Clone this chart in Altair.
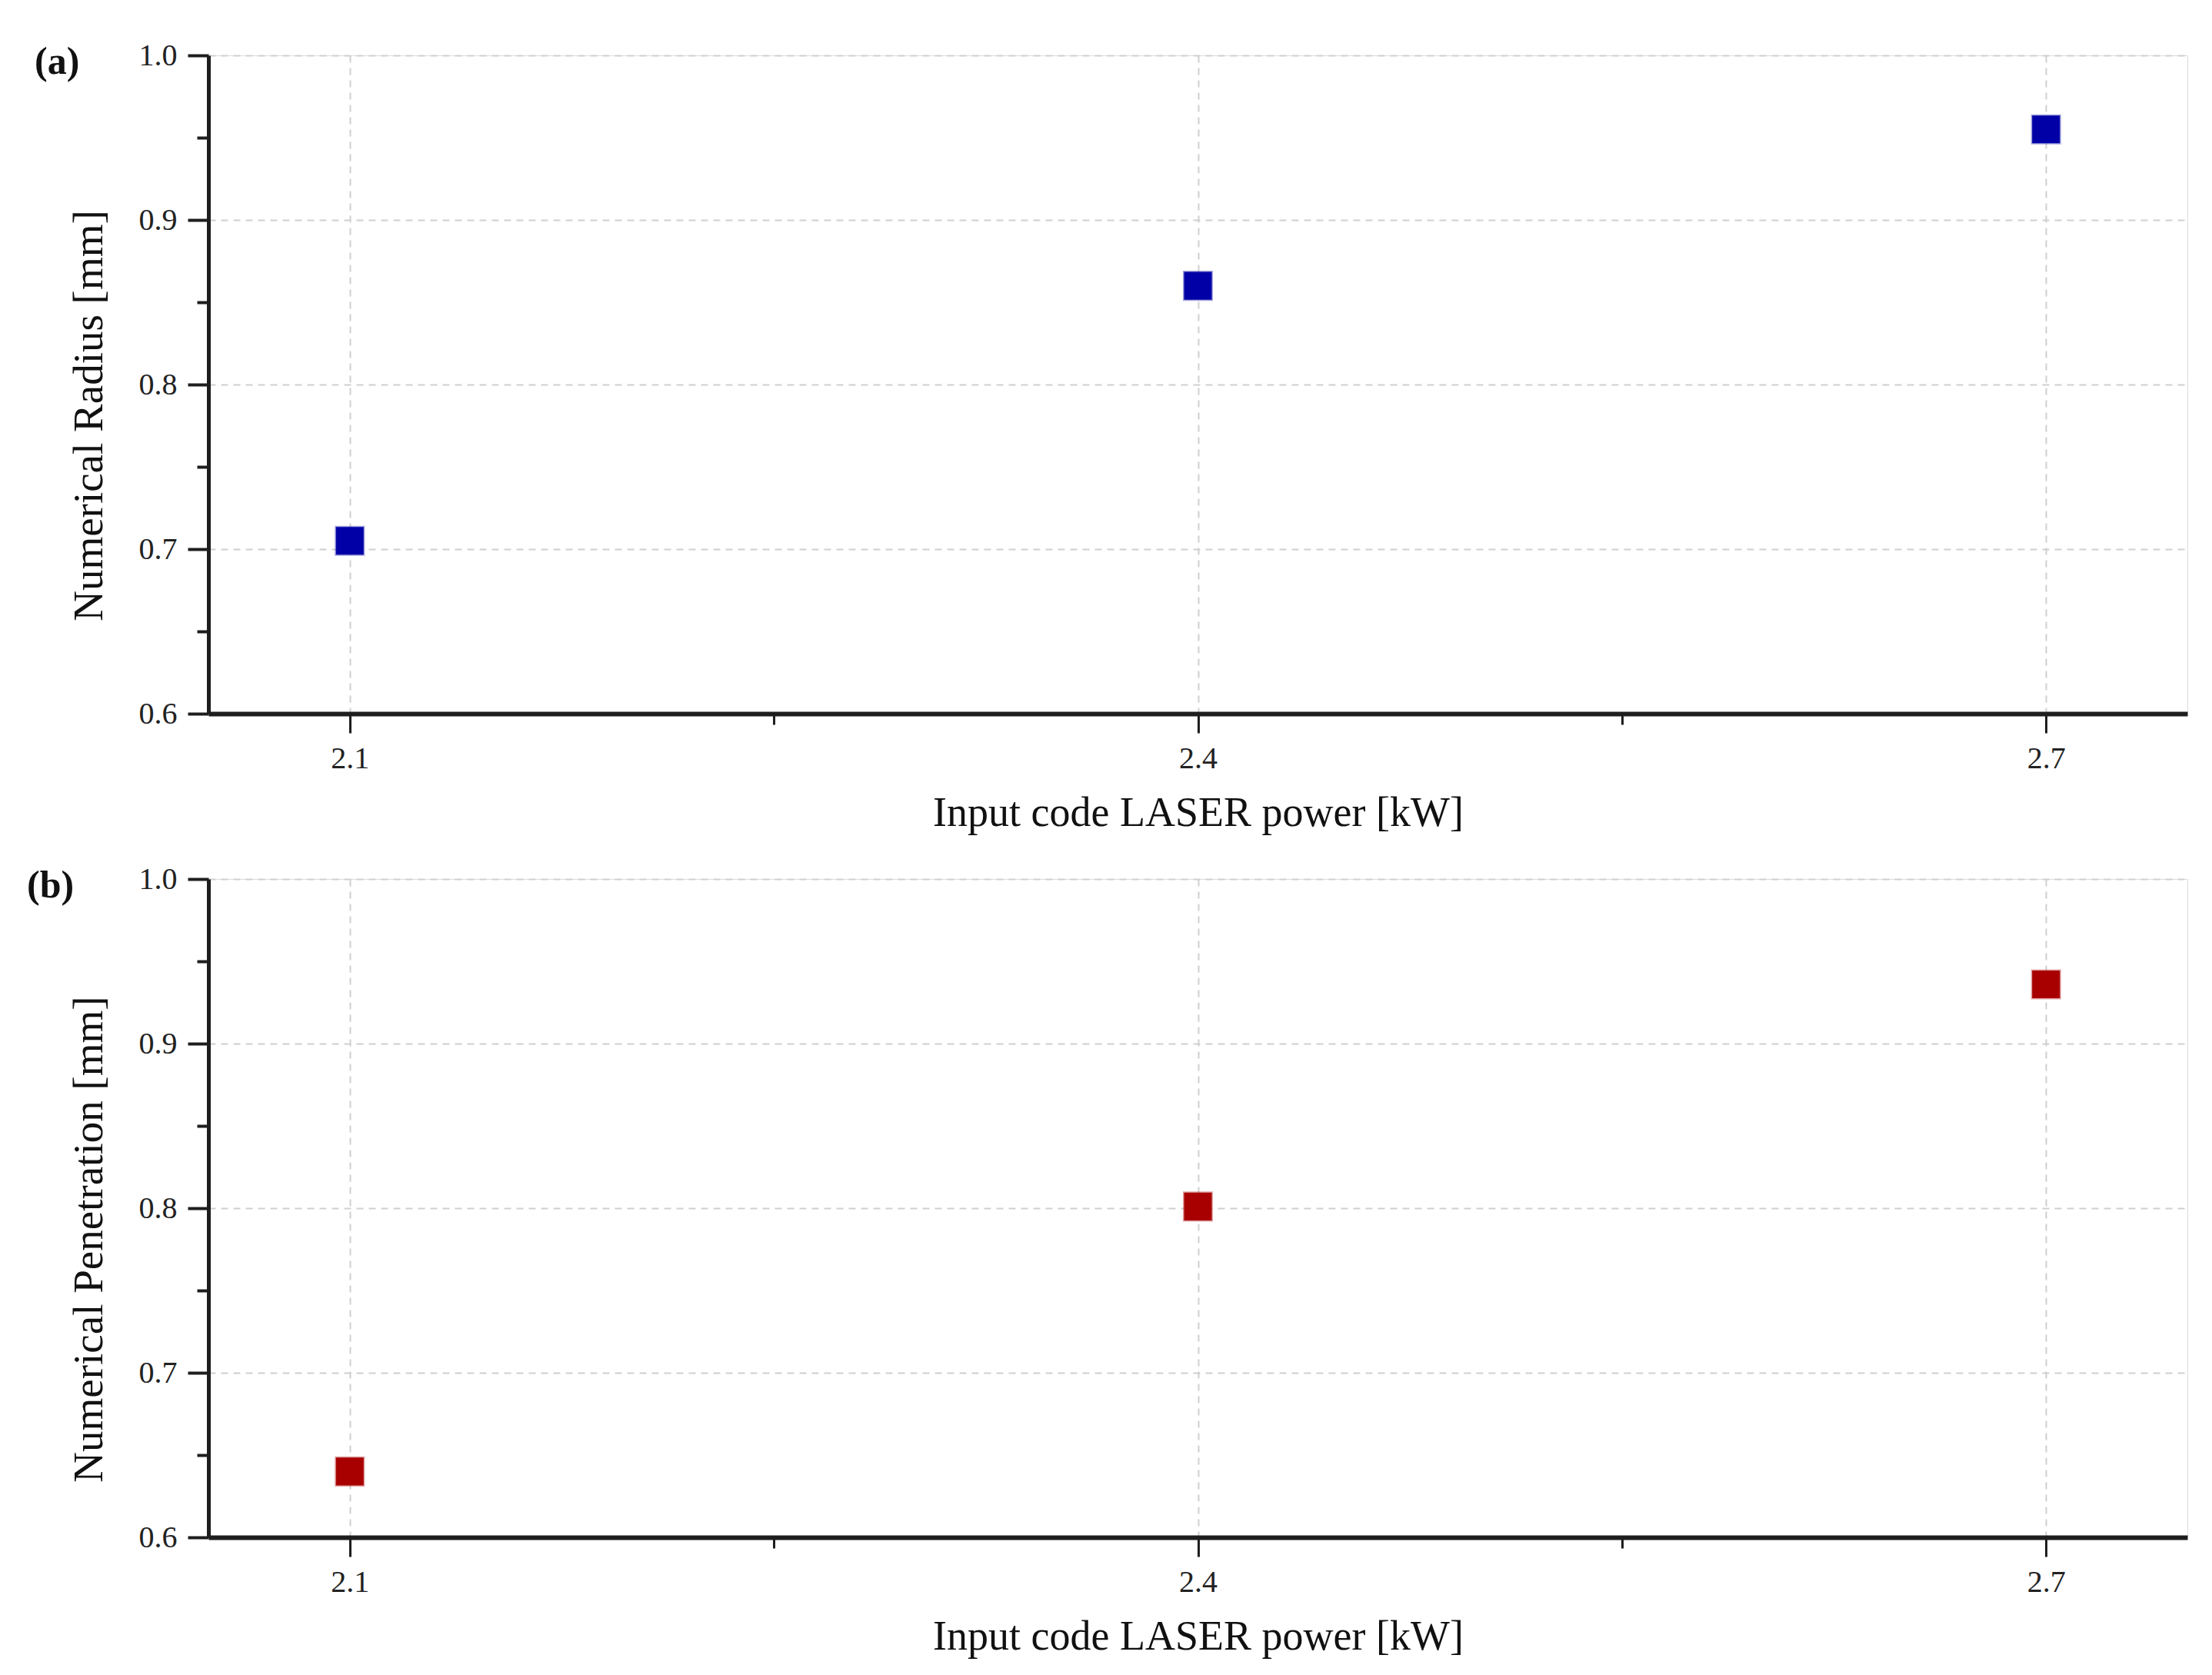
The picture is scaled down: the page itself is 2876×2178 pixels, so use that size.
import altair as alt
import pandas as pd

power = [2.1, 2.4, 2.7]
radius = [0.705, 0.860, 0.955]
penetration = [0.640, 0.801, 0.936]

x_values = [2.1, 2.25, 2.4, 2.55, 2.7]
y_values = [0.6, 0.65, 0.7, 0.75, 0.8, 0.85, 0.9, 0.95, 1.0]

FONT = "Liberation Serif"
FRAME = "#1e1e1e"
PLOT_W = 2573
PLOT_H = 856

x_major = "abs((datum.value - 2.1) / 0.3 - round((datum.value - 2.1) / 0.3)) < 0.01"
y_major = "abs(datum.value * 10 - round(datum.value * 10)) < 0.01"


def x_axis():
    return alt.Axis(
        values=x_values,
        title="Input code LASER power [kW]",
        labelExpr=f"({x_major}) ? format(datum.value, '.1f') : ''",
        tickSize={"condition": {"test": x_major, "value": 25}, "value": 14},
        tickWidth=3,
        tickColor=FRAME,
        domainColor=FRAME,
        domainWidth=6,
        grid=True,
        gridOpacity={"condition": {"test": x_major, "value": 1}, "value": 0},
        gridDash=[9, 7],
        gridColor="#cfcfcf",
        gridWidth=2,
        labelFont=FONT,
        labelFontSize=40,
        labelColor="#222222",
        labelPadding=13,
        titleFont=FONT,
        titleFontSize=54,
        titleFontWeight="normal",
        titleColor="#111111",
        titlePadding=24,
    )


def y_axis(title):
    return alt.Axis(
        values=y_values,
        title=title,
        labelExpr=f"({y_major}) ? format(datum.value, '.1f') : ''",
        tickSize={"condition": {"test": y_major, "value": 27}, "value": 15},
        tickWidth=4,
        tickColor=FRAME,
        domainColor=FRAME,
        domainWidth=5,
        grid=True,
        gridOpacity={"condition": {"test": y_major, "value": 1}, "value": 0},
        gridDash=[9, 7],
        gridColor="#cfcfcf",
        gridWidth=2,
        labelFont=FONT,
        labelFontSize=40,
        labelColor="#222222",
        labelPadding=14,
        titleFont=FONT,
        titleFontSize=55,
        titleFontWeight="normal",
        titleColor="#111111",
        titlePadding=36,
        titleY=PLOT_H / 2 + 40,
    )


def panel(values, ytitle, color, label, dx):
    df = pd.DataFrame({"power": power, "value": values})
    return (
        alt.Chart(
            df,
            title=alt.TitleParams(
                label,
                anchor="start",
                frame="group",
                dx=dx,
                dy=94,
                offset=0,
                baseline="alphabetic",
                font=FONT,
                fontSize=50,
                fontWeight="bold",
                color="#111111",
            ),
        )
        .mark_square(size=1300, color=color, opacity=1, stroke=color, strokeOpacity=0.35, strokeWidth=3)
        .encode(
            x=alt.X("power:Q", scale=alt.Scale(domain=[2.05, 2.75], nice=False, zero=False), axis=x_axis()),
            y=alt.Y("value:Q", scale=alt.Scale(domain=[0.6, 1.0], nice=False, zero=False), axis=y_axis(ytitle)),
        )
        .properties(width=PLOT_W, height=PLOT_H)
    )


a = panel(radius, "Numerical Radius [mm]", "#0000a6", "(a)", -226)
b = panel(penetration, "Numerical Penetration [mm]", "#a80000", "(b)", -236)

chart = (
    alt.vconcat(a, b, spacing=37)
    .properties(padding={"left": 26, "top": 43, "right": 5, "bottom": 5})
    .configure_view(stroke=FRAME, strokeWidth=5)
    .configure(background="white")
)

chart.save("out.html", embed_options={"renderer": "svg", "actions": False})
